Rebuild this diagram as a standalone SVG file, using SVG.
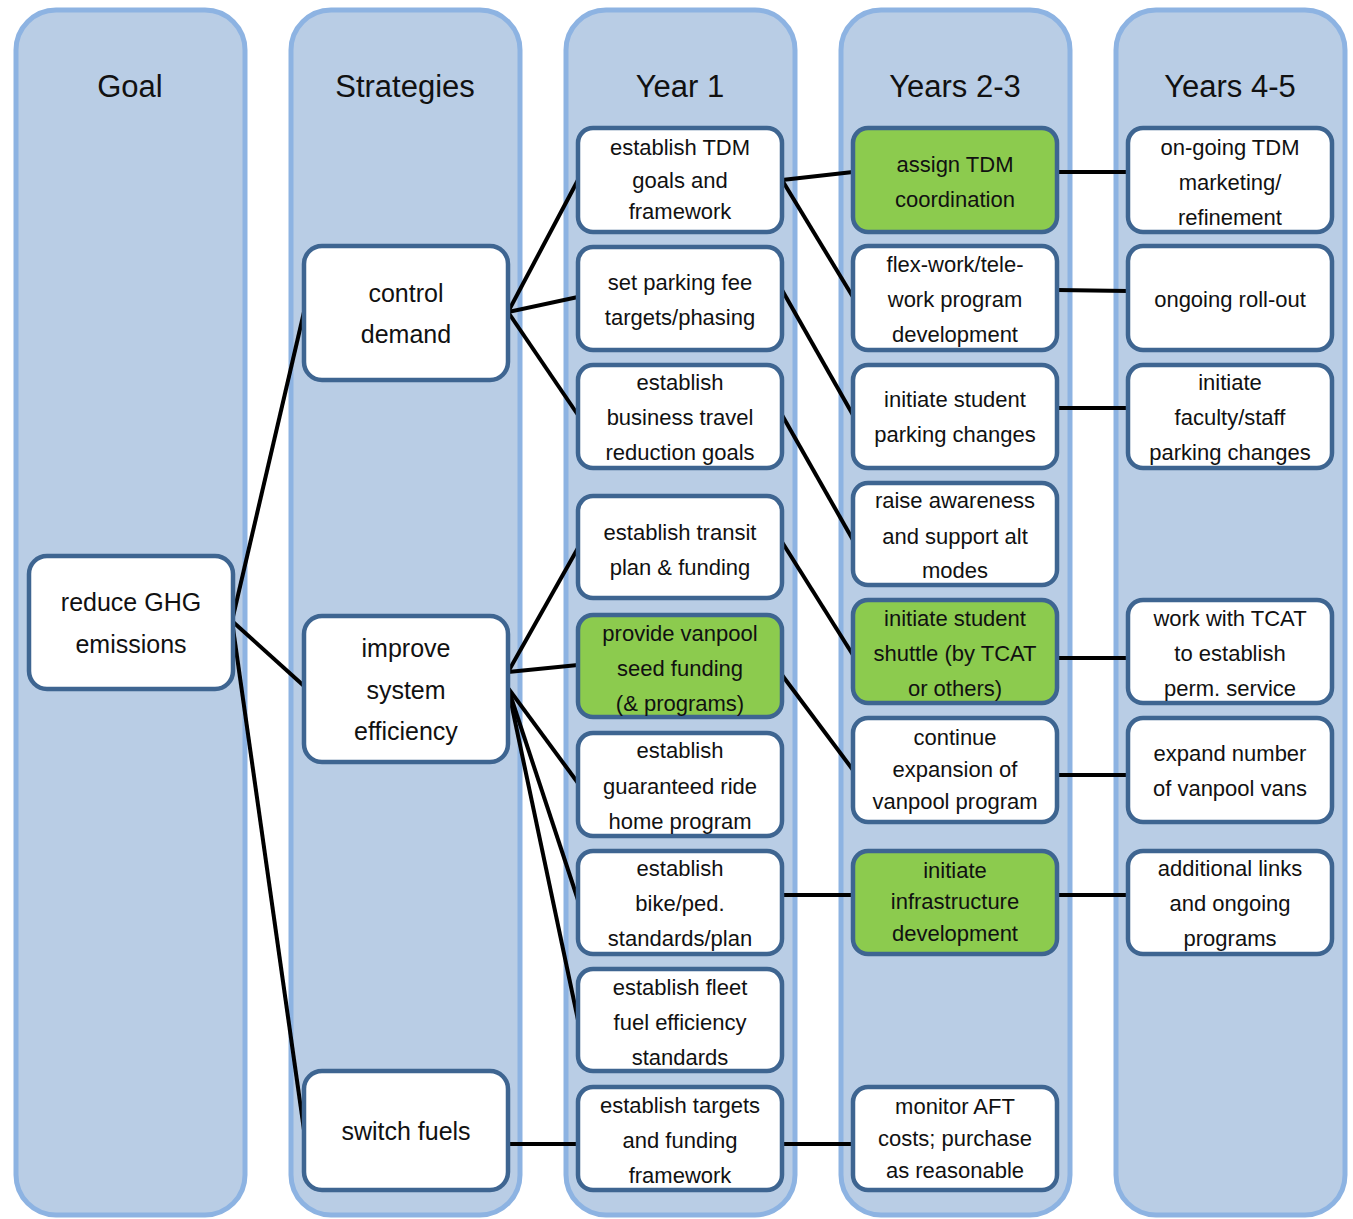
<svg xmlns="http://www.w3.org/2000/svg" width="1353" height="1219" viewBox="0 0 1353 1219">
<style>
.col{fill:#B9CDE5;stroke:#8DB3E2;stroke-width:5}
.hdr{font-family:"Liberation Sans",Arial,sans-serif;font-size:31px;fill:#111;text-anchor:middle}
.n{fill:#fff;stroke:#3E6591;stroke-width:4.5}
.g{fill:#8CCB4E;stroke:#3E6591;stroke-width:4.5}
.t{font-family:"Liberation Sans",Arial,sans-serif;font-size:22px;fill:#111;text-anchor:middle}
.tb{font-family:"Liberation Sans",Arial,sans-serif;font-size:25px;fill:#111;text-anchor:middle}
.c{stroke:#000;stroke-width:4;fill:none}
</style>
<rect width="1353" height="1219" fill="#fff"/>
<g id="columns">
<rect class="col" x="16" y="10" width="229" height="1205" rx="40"/>
<rect class="col" x="291" y="10" width="229" height="1205" rx="40"/>
<rect class="col" x="566" y="10" width="229" height="1205" rx="40"/>
<rect class="col" x="841" y="10" width="229" height="1205" rx="40"/>
<rect class="col" x="1116" y="10" width="229" height="1205" rx="40"/>
<text class="hdr" x="130" y="97">Goal</text>
<text class="hdr" x="405" y="97">Strategies</text>
<text class="hdr" x="680" y="97">Year 1</text>
<text class="hdr" x="955" y="97">Years 2-3</text>
<text class="hdr" x="1230" y="97">Years 4-5</text>
</g>
<g id="connectors">
<line class="c" x1="232" y1="621" x2="304" y2="312"/>
<line class="c" x1="232" y1="621" x2="304" y2="686"/>
<line class="c" x1="232" y1="621" x2="304" y2="1130"/>
<line class="c" x1="508" y1="312" x2="578" y2="180"/>
<line class="c" x1="508" y1="312" x2="578" y2="297"/>
<line class="c" x1="508" y1="312" x2="578" y2="415"/>
<line class="c" x1="508" y1="672" x2="578" y2="548"/>
<line class="c" x1="508" y1="672" x2="578" y2="665"/>
<line class="c" x1="508" y1="688" x2="578" y2="783"/>
<line class="c" x1="508" y1="688" x2="578" y2="900"/>
<line class="c" x1="508" y1="688" x2="578" y2="1020"/>
<line class="c" x1="508" y1="1144" x2="578" y2="1144"/>
<line class="c" x1="782" y1="180" x2="853" y2="172"/>
<line class="c" x1="782" y1="180" x2="853" y2="297"/>
<line class="c" x1="782" y1="290" x2="853" y2="415"/>
<line class="c" x1="782" y1="415" x2="853" y2="540"/>
<line class="c" x1="782" y1="542" x2="853" y2="655"/>
<line class="c" x1="782" y1="675" x2="853" y2="770"/>
<line class="c" x1="782" y1="895" x2="853" y2="895"/>
<line class="c" x1="782" y1="1144" x2="853" y2="1144"/>
<line class="c" x1="1057" y1="172" x2="1128" y2="172"/>
<line class="c" x1="1057" y1="290" x2="1128" y2="291"/>
<line class="c" x1="1057" y1="408" x2="1128" y2="408"/>
<line class="c" x1="1057" y1="658" x2="1128" y2="658"/>
<line class="c" x1="1057" y1="775" x2="1128" y2="775"/>
<line class="c" x1="1057" y1="895" x2="1128" y2="895"/>
</g>
<g id="goal"><rect class="n" x="29" y="556" width="204" height="133" rx="18"/><text class="tb" x="131" y="611">reduce GHG</text><text class="tb" x="131" y="653">emissions</text></g>
<g id="control-demand"><rect class="n" x="304" y="246" width="204" height="134" rx="18"/><text class="tb" x="406" y="302">control</text><text class="tb" x="406" y="343">demand</text></g>
<g id="improve-efficiency"><rect class="n" x="304" y="616" width="204" height="146" rx="18"/><text class="tb" x="406" y="657">improve</text><text class="tb" x="406" y="699">system</text><text class="tb" x="406" y="740">efficiency</text></g>
<g id="switch-fuels"><rect class="n" x="304" y="1071" width="204" height="119" rx="18"/><text class="tb" x="406" y="1140">switch fuels</text></g>

<g id="y1-tdm"><rect class="n" x="578" y="128" width="204" height="104" rx="15"/><text class="t" x="680" y="155">establish TDM</text><text class="t" x="680" y="188">goals and</text><text class="t" x="680" y="219">framework</text></g>
<g id="y1-parking"><rect class="n" x="578" y="247" width="204" height="103" rx="15"/><text class="t" x="680" y="290">set parking fee</text><text class="t" x="680" y="325">targets/phasing</text></g>
<g id="y1-business"><rect class="n" x="578" y="365" width="204" height="103" rx="15"/><text class="t" x="680" y="390">establish</text><text class="t" x="680" y="425">business travel</text><text class="t" x="680" y="460">reduction goals</text></g>
<g id="y1-transit"><rect class="n" x="578" y="496" width="204" height="102" rx="15"/><text class="t" x="680" y="540">establish transit</text><text class="t" x="680" y="575">plan &amp; funding</text></g>
<g id="y1-vanpool"><rect class="g" x="578" y="615" width="204" height="102" rx="15"/><text class="t" x="680" y="641">provide vanpool</text><text class="t" x="680" y="676">seed funding</text><text class="t" x="680" y="711">(&amp; programs)</text></g>
<g id="y1-ride"><rect class="n" x="578" y="733" width="204" height="103" rx="15"/><text class="t" x="680" y="758">establish</text><text class="t" x="680" y="794">guaranteed ride</text><text class="t" x="680" y="829">home program</text></g>
<g id="y1-bike"><rect class="n" x="578" y="851" width="204" height="103" rx="15"/><text class="t" x="680" y="876">establish</text><text class="t" x="680" y="911">bike/ped.</text><text class="t" x="680" y="946">standards/plan</text></g>
<g id="y1-fleet"><rect class="n" x="578" y="969" width="204" height="102" rx="15"/><text class="t" x="680" y="995">establish fleet</text><text class="t" x="680" y="1030">fuel efficiency</text><text class="t" x="680" y="1065">standards</text></g>
<g id="y1-targets"><rect class="n" x="578" y="1087" width="204" height="103" rx="15"/><text class="t" x="680" y="1113">establish targets</text><text class="t" x="680" y="1148">and funding</text><text class="t" x="680" y="1183">framework</text></g>

<g id="y23-coord"><rect class="g" x="853" y="128" width="204" height="104" rx="15"/><text class="t" x="955" y="172">assign TDM</text><text class="t" x="955" y="207">coordination</text></g>
<g id="y23-flex"><rect class="n" x="853" y="246" width="204" height="104" rx="15"/><text class="t" x="955" y="272">flex-work/tele-</text><text class="t" x="955" y="307">work program</text><text class="t" x="955" y="342">development</text></g>
<g id="y23-student-parking"><rect class="n" x="853" y="365" width="204" height="103" rx="15"/><text class="t" x="955" y="407">initiate student</text><text class="t" x="955" y="442">parking changes</text></g>
<g id="y23-awareness"><rect class="n" x="853" y="483" width="204" height="102" rx="15"/><text class="t" x="955" y="508">raise awareness</text><text class="t" x="955" y="544">and support alt</text><text class="t" x="955" y="578">modes</text></g>
<g id="y23-shuttle"><rect class="g" x="853" y="600" width="204" height="103" rx="15"/><text class="t" x="955" y="626">initiate student</text><text class="t" x="955" y="661">shuttle (by TCAT</text><text class="t" x="955" y="696">or others)</text></g>
<g id="y23-vanpool"><rect class="n" x="853" y="718" width="204" height="104" rx="15"/><text class="t" x="955" y="745">continue</text><text class="t" x="955" y="777">expansion of</text><text class="t" x="955" y="809">vanpool program</text></g>
<g id="y23-infra"><rect class="g" x="853" y="851" width="204" height="103" rx="15"/><text class="t" x="955" y="878">initiate</text><text class="t" x="955" y="909">infrastructure</text><text class="t" x="955" y="941">development</text></g>
<g id="y23-aft"><rect class="n" x="853" y="1087" width="204" height="103" rx="15"/><text class="t" x="955" y="1114">monitor AFT</text><text class="t" x="955" y="1146">costs; purchase</text><text class="t" x="955" y="1178">as reasonable</text></g>

<g id="y45-marketing"><rect class="n" x="1128" y="128" width="204" height="104" rx="15"/><text class="t" x="1230" y="155">on-going TDM</text><text class="t" x="1230" y="190">marketing/</text><text class="t" x="1230" y="225">refinement</text></g>
<g id="y45-rollout"><rect class="n" x="1128" y="246" width="204" height="104" rx="15"/><text class="t" x="1230" y="307">ongoing roll-out</text></g>
<g id="y45-faculty"><rect class="n" x="1128" y="365" width="204" height="103" rx="15"/><text class="t" x="1230" y="390">initiate</text><text class="t" x="1230" y="425">faculty/staff</text><text class="t" x="1230" y="460">parking changes</text></g>
<g id="y45-tcat"><rect class="n" x="1128" y="600" width="204" height="103" rx="15"/><text class="t" x="1230" y="626">work with TCAT</text><text class="t" x="1230" y="661">to establish</text><text class="t" x="1230" y="696">perm. service</text></g>
<g id="y45-vans"><rect class="n" x="1128" y="718" width="204" height="104" rx="15"/><text class="t" x="1230" y="761">expand number</text><text class="t" x="1230" y="796">of vanpool vans</text></g>
<g id="y45-links"><rect class="n" x="1128" y="851" width="204" height="103" rx="15"/><text class="t" x="1230" y="876">additional links</text><text class="t" x="1230" y="911">and ongoing</text><text class="t" x="1230" y="946">programs</text></g>
</svg>
